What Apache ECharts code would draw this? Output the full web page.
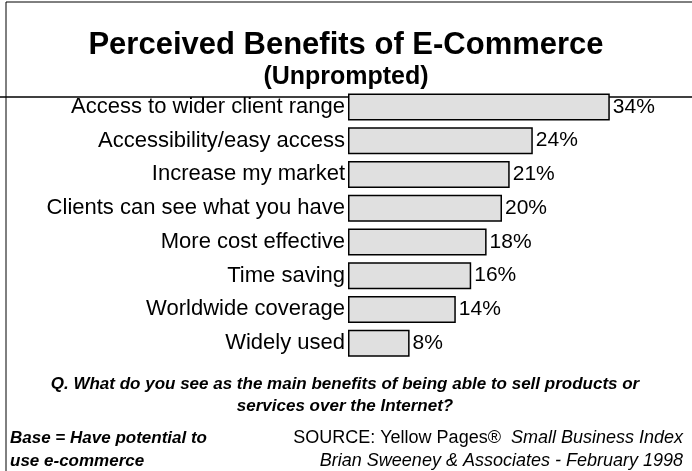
<!DOCTYPE html>
<html>
<head>
<meta charset="utf-8">
<script src="https://cdn.jsdelivr.net/npm/echarts@6/dist/echarts.min.js"></script>
<style>
  html, body { margin: 0; padding: 0; background: #fff; }
  #chart { width: 692px; height: 471px; }
</style>
</head>
<body>
<div id="chart"></div>
<script>
// Survey responses, top answer first
const categories = [
  'Access to wider client range',
  'Accessibility/easy access',
  'Increase my market',
  'Clients can see what you have',
  'More cost effective',
  'Time saving',
  'Worldwide coverage',
  'Widely used'
];
const percentages = [34, 24, 21, 20, 18, 16, 14, 8];

const FONT = '"Liberation Sans", Arial, sans-serif';

const chart = echarts.init(document.getElementById('chart'), null, { renderer: 'canvas' });

function centered(text, x, y, font) {
  return {
    type: 'text', x: x, y: y,
    style: { text: text, font: font, fill: '#000', textAlign: 'center', textVerticalAlign: 'middle' }
  };
}

chart.setOption({
  backgroundColor: '#ffffff',
  animation: false,
  grid: { left: 348, top: 90, width: 308, height: 270, containLabel: false },
  xAxis: {
    type: 'value',
    min: 0,
    max: 40,
    show: false
  },
  yAxis: {
    type: 'category',
    inverse: true,
    data: categories,
    axisLine: { show: false },
    axisTick: { show: false },
    splitLine: { show: false },
    axisLabel: {
      fontFamily: FONT, fontSize: 22, color: '#000', margin: 3
    }
  },
  series: [{
    type: 'bar',
    data: percentages,
    barWidth: 27,
    itemStyle: { color: '#e0e0e0', borderColor: '#000', borderWidth: 1.5 },
    label: {
      show: true,
      position: 'right',
      distance: 3,
      formatter: p => p.value + '%',
      fontFamily: FONT, fontSize: 21, color: '#000'
    }
  }],
  graphic: [
    // frame lines
    { type: 'line', shape: { x1: 6, y1: 2, x2: 692, y2: 2 }, style: { stroke: '#000', lineWidth: 1 } },
    { type: 'line', shape: { x1: 6, y1: 2, x2: 6, y2: 471 }, style: { stroke: '#000', lineWidth: 1 } },
    { type: 'line', shape: { x1: 0, y1: 97, x2: 692, y2: 97 }, style: { stroke: '#000', lineWidth: 1.5 } },
    // headings
    centered('Perceived Benefits of E-Commerce', 346, 45, 'bold 31px ' + FONT),
    centered('(Unprompted)', 346, 77, 'bold 25px ' + FONT),
    // survey question
    centered('Q. What do you see as the main benefits of being able to sell products or', 345, 384, 'italic bold 17px ' + FONT),
    centered('services over the Internet?', 345, 406, 'italic bold 17px ' + FONT),
    // base note
    {
      type: 'text', x: 10, y: 438,
      style: { text: 'Base = Have potential to', font: 'italic bold 17px ' + FONT, fill: '#000', textVerticalAlign: 'middle' }
    },
    {
      type: 'text', x: 10, y: 461,
      style: { text: 'use e-commerce', font: 'italic bold 17px ' + FONT, fill: '#000', textVerticalAlign: 'middle' }
    },
    // source lines
    {
      type: 'text', x: 683, y: 438,
      style: {
        text: '{n|SOURCE: Yellow Pages®}{i|  Small Business Index}',
        textAlign: 'right', textVerticalAlign: 'middle',
        rich: {
          n: { font: '18px ' + FONT, fill: '#000' },
          i: { font: 'italic 18px ' + FONT, fill: '#000' }
        }
      }
    },
    {
      type: 'text', x: 683, y: 461,
      style: { text: 'Brian Sweeney & Associates - February 1998', font: 'italic 18px ' + FONT, fill: '#000', textAlign: 'right', textVerticalAlign: 'middle' }
    }
  ]
});
</script>
</body>
</html>
